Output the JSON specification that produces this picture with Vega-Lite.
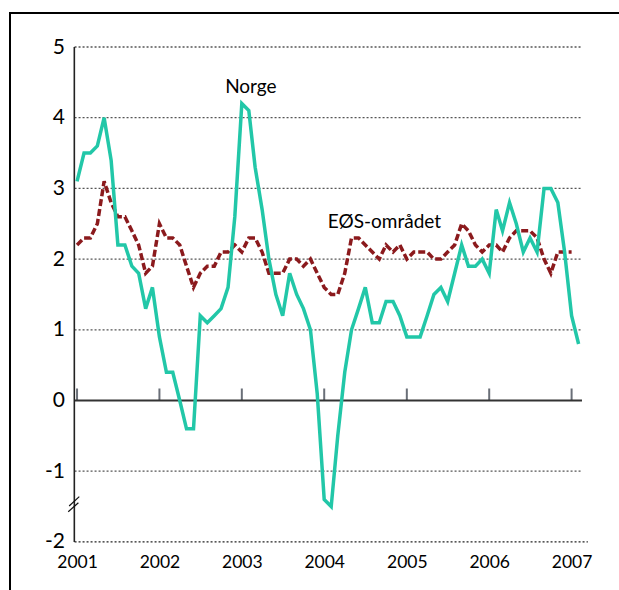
{
  "$schema": "https://vega.github.io/schema/vega-lite/v6.json",
  "width": 609,
  "height": 577,
  "autosize": {"type": "none"},
  "padding": {"left": 10, "top": 13, "right": 0, "bottom": 0},
  "background": "white",
  "config": {
    "view": {"stroke": null},
    "font": "Lato",
    "axis": {"domain": false, "ticks": false, "grid": false, "title": null}
  },
  "data": {"values": [{}]},
  "datasets": {
    "series": [
      {"date": "2001-01", "series": "Norge", "value": 3.1},
      {"date": "2001-02", "series": "Norge", "value": 3.5},
      {"date": "2001-03", "series": "Norge", "value": 3.5},
      {"date": "2001-04", "series": "Norge", "value": 3.6},
      {"date": "2001-05", "series": "Norge", "value": 4.0},
      {"date": "2001-06", "series": "Norge", "value": 3.4},
      {"date": "2001-07", "series": "Norge", "value": 2.2},
      {"date": "2001-08", "series": "Norge", "value": 2.2},
      {"date": "2001-09", "series": "Norge", "value": 1.9},
      {"date": "2001-10", "series": "Norge", "value": 1.8},
      {"date": "2001-11", "series": "Norge", "value": 1.3},
      {"date": "2001-12", "series": "Norge", "value": 1.6},
      {"date": "2002-01", "series": "Norge", "value": 0.9},
      {"date": "2002-02", "series": "Norge", "value": 0.4},
      {"date": "2002-03", "series": "Norge", "value": 0.4},
      {"date": "2002-04", "series": "Norge", "value": 0.0},
      {"date": "2002-05", "series": "Norge", "value": -0.4},
      {"date": "2002-06", "series": "Norge", "value": -0.4},
      {"date": "2002-07", "series": "Norge", "value": 1.2},
      {"date": "2002-08", "series": "Norge", "value": 1.1},
      {"date": "2002-09", "series": "Norge", "value": 1.2},
      {"date": "2002-10", "series": "Norge", "value": 1.3},
      {"date": "2002-11", "series": "Norge", "value": 1.6},
      {"date": "2002-12", "series": "Norge", "value": 2.6},
      {"date": "2003-01", "series": "Norge", "value": 4.2},
      {"date": "2003-02", "series": "Norge", "value": 4.1},
      {"date": "2003-03", "series": "Norge", "value": 3.3},
      {"date": "2003-04", "series": "Norge", "value": 2.7},
      {"date": "2003-05", "series": "Norge", "value": 2.0},
      {"date": "2003-06", "series": "Norge", "value": 1.5},
      {"date": "2003-07", "series": "Norge", "value": 1.2},
      {"date": "2003-08", "series": "Norge", "value": 1.8},
      {"date": "2003-09", "series": "Norge", "value": 1.5},
      {"date": "2003-10", "series": "Norge", "value": 1.3},
      {"date": "2003-11", "series": "Norge", "value": 1.0},
      {"date": "2003-12", "series": "Norge", "value": 0.1},
      {"date": "2004-01", "series": "Norge", "value": -1.4},
      {"date": "2004-02", "series": "Norge", "value": -1.5},
      {"date": "2004-03", "series": "Norge", "value": -0.5},
      {"date": "2004-04", "series": "Norge", "value": 0.4},
      {"date": "2004-05", "series": "Norge", "value": 1.0},
      {"date": "2004-06", "series": "Norge", "value": 1.3},
      {"date": "2004-07", "series": "Norge", "value": 1.6},
      {"date": "2004-08", "series": "Norge", "value": 1.1},
      {"date": "2004-09", "series": "Norge", "value": 1.1},
      {"date": "2004-10", "series": "Norge", "value": 1.4},
      {"date": "2004-11", "series": "Norge", "value": 1.4},
      {"date": "2004-12", "series": "Norge", "value": 1.2},
      {"date": "2005-01", "series": "Norge", "value": 0.9},
      {"date": "2005-02", "series": "Norge", "value": 0.9},
      {"date": "2005-03", "series": "Norge", "value": 0.9},
      {"date": "2005-04", "series": "Norge", "value": 1.2},
      {"date": "2005-05", "series": "Norge", "value": 1.5},
      {"date": "2005-06", "series": "Norge", "value": 1.6},
      {"date": "2005-07", "series": "Norge", "value": 1.4},
      {"date": "2005-08", "series": "Norge", "value": 1.8},
      {"date": "2005-09", "series": "Norge", "value": 2.2},
      {"date": "2005-10", "series": "Norge", "value": 1.9},
      {"date": "2005-11", "series": "Norge", "value": 1.9},
      {"date": "2005-12", "series": "Norge", "value": 2.0},
      {"date": "2006-01", "series": "Norge", "value": 1.8},
      {"date": "2006-02", "series": "Norge", "value": 2.7},
      {"date": "2006-03", "series": "Norge", "value": 2.4},
      {"date": "2006-04", "series": "Norge", "value": 2.8},
      {"date": "2006-05", "series": "Norge", "value": 2.5},
      {"date": "2006-06", "series": "Norge", "value": 2.1},
      {"date": "2006-07", "series": "Norge", "value": 2.3},
      {"date": "2006-08", "series": "Norge", "value": 2.1},
      {"date": "2006-09", "series": "Norge", "value": 3.0},
      {"date": "2006-10", "series": "Norge", "value": 3.0},
      {"date": "2006-11", "series": "Norge", "value": 2.8},
      {"date": "2006-12", "series": "Norge", "value": 2.1},
      {"date": "2007-01", "series": "Norge", "value": 1.2},
      {"date": "2007-02", "series": "Norge", "value": 0.8},
      {"date": "2001-01", "series": "EØS", "value": 2.2},
      {"date": "2001-02", "series": "EØS", "value": 2.3},
      {"date": "2001-03", "series": "EØS", "value": 2.3},
      {"date": "2001-04", "series": "EØS", "value": 2.5},
      {"date": "2001-05", "series": "EØS", "value": 3.1},
      {"date": "2001-06", "series": "EØS", "value": 2.8},
      {"date": "2001-07", "series": "EØS", "value": 2.6},
      {"date": "2001-08", "series": "EØS", "value": 2.6},
      {"date": "2001-09", "series": "EØS", "value": 2.4},
      {"date": "2001-10", "series": "EØS", "value": 2.2},
      {"date": "2001-11", "series": "EØS", "value": 1.8},
      {"date": "2001-12", "series": "EØS", "value": 1.9},
      {"date": "2002-01", "series": "EØS", "value": 2.5},
      {"date": "2002-02", "series": "EØS", "value": 2.3},
      {"date": "2002-03", "series": "EØS", "value": 2.3},
      {"date": "2002-04", "series": "EØS", "value": 2.2},
      {"date": "2002-05", "series": "EØS", "value": 1.9},
      {"date": "2002-06", "series": "EØS", "value": 1.6},
      {"date": "2002-07", "series": "EØS", "value": 1.8},
      {"date": "2002-08", "series": "EØS", "value": 1.9},
      {"date": "2002-09", "series": "EØS", "value": 1.9},
      {"date": "2002-10", "series": "EØS", "value": 2.1},
      {"date": "2002-11", "series": "EØS", "value": 2.1},
      {"date": "2002-12", "series": "EØS", "value": 2.2},
      {"date": "2003-01", "series": "EØS", "value": 2.1},
      {"date": "2003-02", "series": "EØS", "value": 2.3},
      {"date": "2003-03", "series": "EØS", "value": 2.3},
      {"date": "2003-04", "series": "EØS", "value": 2.1},
      {"date": "2003-05", "series": "EØS", "value": 1.8},
      {"date": "2003-06", "series": "EØS", "value": 1.8},
      {"date": "2003-07", "series": "EØS", "value": 1.8},
      {"date": "2003-08", "series": "EØS", "value": 2.0},
      {"date": "2003-09", "series": "EØS", "value": 2.0},
      {"date": "2003-10", "series": "EØS", "value": 1.9},
      {"date": "2003-11", "series": "EØS", "value": 2.0},
      {"date": "2003-12", "series": "EØS", "value": 1.8},
      {"date": "2004-01", "series": "EØS", "value": 1.6},
      {"date": "2004-02", "series": "EØS", "value": 1.5},
      {"date": "2004-03", "series": "EØS", "value": 1.5},
      {"date": "2004-04", "series": "EØS", "value": 1.8},
      {"date": "2004-05", "series": "EØS", "value": 2.3},
      {"date": "2004-06", "series": "EØS", "value": 2.3},
      {"date": "2004-07", "series": "EØS", "value": 2.2},
      {"date": "2004-08", "series": "EØS", "value": 2.1},
      {"date": "2004-09", "series": "EØS", "value": 2.0},
      {"date": "2004-10", "series": "EØS", "value": 2.2},
      {"date": "2004-11", "series": "EØS", "value": 2.1},
      {"date": "2004-12", "series": "EØS", "value": 2.2},
      {"date": "2005-01", "series": "EØS", "value": 2.0},
      {"date": "2005-02", "series": "EØS", "value": 2.1},
      {"date": "2005-03", "series": "EØS", "value": 2.1},
      {"date": "2005-04", "series": "EØS", "value": 2.1},
      {"date": "2005-05", "series": "EØS", "value": 2.0},
      {"date": "2005-06", "series": "EØS", "value": 2.0},
      {"date": "2005-07", "series": "EØS", "value": 2.1},
      {"date": "2005-08", "series": "EØS", "value": 2.2},
      {"date": "2005-09", "series": "EØS", "value": 2.5},
      {"date": "2005-10", "series": "EØS", "value": 2.4},
      {"date": "2005-11", "series": "EØS", "value": 2.2},
      {"date": "2005-12", "series": "EØS", "value": 2.1},
      {"date": "2006-01", "series": "EØS", "value": 2.2},
      {"date": "2006-02", "series": "EØS", "value": 2.2},
      {"date": "2006-03", "series": "EØS", "value": 2.1},
      {"date": "2006-04", "series": "EØS", "value": 2.3},
      {"date": "2006-05", "series": "EØS", "value": 2.4},
      {"date": "2006-06", "series": "EØS", "value": 2.4},
      {"date": "2006-07", "series": "EØS", "value": 2.4},
      {"date": "2006-08", "series": "EØS", "value": 2.3},
      {"date": "2006-09", "series": "EØS", "value": 2.0},
      {"date": "2006-10", "series": "EØS", "value": 1.8},
      {"date": "2006-11", "series": "EØS", "value": 2.1},
      {"date": "2006-12", "series": "EØS", "value": 2.1},
      {"date": "2007-01", "series": "EØS", "value": 2.1}
    ],
    "grid": [{"v": 5}, {"v": 4}, {"v": 3}, {"v": 2}, {"v": 1}, {"v": -1}],
    "years": [
      {"year": "2001-01-01"}, {"year": "2002-01-01"}, {"year": "2003-01-01"},
      {"year": "2004-01-01"}, {"year": "2005-01-01"}, {"year": "2006-01-01"},
      {"year": "2007-01-01"}
    ]
  },
  "layer": [
    {
      "mark": {"type": "rect", "fill": null, "fillOpacity": 0, "stroke": "#000", "strokeWidth": 2},
      "encoding": {
        "x": {"datum": {"year": 2000, "month": 3, "date": 10, "utc": true}, "type": "temporal", "scale": {"type": "utc", "domain": [{"year": 2000, "month": 3, "date": 10, "utc": true}, {"year": 2007, "month": 7, "date": 30, "utc": true}]}},
        "x2": {"datum": {"year": 2008, "month": 6, "date": 1, "utc": true}},
        "y": {"datum": -3.5, "type": "quantitative", "scale": {"domain": [-2.68, 5.481], "nice": false, "zero": false}},
        "y2": {"datum": 5.481}
      }
    },
    {
      "data": {"name": "grid"},
      "mark": {"type": "rule", "color": "#555", "strokeWidth": 1.3, "strokeDash": [2, 2]},
      "encoding": {
        "x": {"datum": {"year": 2000, "month": 12, "date": 21, "utc": true}, "type": "temporal", "scale": {"type": "utc", "domain": [{"year": 2000, "month": 3, "date": 10, "utc": true}, {"year": 2007, "month": 7, "date": 30, "utc": true}]}},
        "x2": {"datum": {"year": 2007, "month": 2, "date": 16, "utc": true}},
        "y": {"field": "v", "type": "quantitative", "scale": {"domain": [-2.68, 5.481], "nice": false, "zero": false}}
      }
    },
    {
      "mark": {"type": "rule", "color": "#222", "strokeWidth": 1.3, "strokeDash": [2, 2]},
      "encoding": {
        "x": {"datum": {"year": 2000, "month": 12, "date": 21, "utc": true}, "type": "temporal", "scale": {"type": "utc", "domain": [{"year": 2000, "month": 3, "date": 10, "utc": true}, {"year": 2007, "month": 7, "date": 30, "utc": true}]}},
        "x2": {"datum": {"year": 2007, "month": 3, "date": 14, "utc": true}},
        "y": {"datum": -2, "type": "quantitative", "scale": {"domain": [-2.68, 5.481], "nice": false, "zero": false}}
      }
    },
    {
      "data": {"name": "years"},
      "mark": {"type": "rule", "color": "#6a6f78", "strokeWidth": 2},
      "encoding": {
        "x": {"field": "year", "type": "temporal", "scale": {"type": "utc", "domain": [{"year": 2000, "month": 3, "date": 10, "utc": true}, {"year": 2007, "month": 7, "date": 30, "utc": true}]}},
        "y": {"datum": 0, "type": "quantitative", "scale": {"domain": [-2.68, 5.481], "nice": false, "zero": false}},
        "y2": {"datum": 0.17}
      }
    },
    {
      "mark": {"type": "rule", "color": "#333", "strokeWidth": 1.8},
      "encoding": {
        "x": {"datum": {"year": 2000, "month": 12, "date": 21, "utc": true}, "type": "temporal", "scale": {"type": "utc", "domain": [{"year": 2000, "month": 3, "date": 10, "utc": true}, {"year": 2007, "month": 7, "date": 30, "utc": true}]}},
        "x2": {"datum": {"year": 2007, "month": 2, "date": 16, "utc": true}},
        "y": {"datum": 0, "type": "quantitative", "scale": {"domain": [-2.68, 5.481], "nice": false, "zero": false}}
      }
    },
    {
      "mark": {"type": "rule", "color": "#222", "strokeWidth": 1.6},
      "encoding": {
        "x": {"datum": {"year": 2000, "month": 12, "date": 20, "utc": true}, "type": "temporal", "scale": {"type": "utc", "domain": [{"year": 2000, "month": 3, "date": 10, "utc": true}, {"year": 2007, "month": 7, "date": 30, "utc": true}]}},
        "y": {"datum": -2, "type": "quantitative", "scale": {"domain": [-2.68, 5.481], "nice": false, "zero": false}},
        "y2": {"datum": 5}
      }
    },
    {
      "mark": {"type": "rule", "color": "#111", "strokeWidth": 1.2},
      "encoding": {
        "x": {"datum": {"year": 2000, "month": 11, "date": 27, "utc": true}, "type": "temporal", "scale": {"type": "utc", "domain": [{"year": 2000, "month": 3, "date": 10, "utc": true}, {"year": 2007, "month": 7, "date": 30, "utc": true}]}},
        "x2": {"datum": {"year": 2001, "month": 1, "date": 11, "utc": true}},
        "y": {"datum": -1.492, "type": "quantitative", "scale": {"domain": [-2.68, 5.481], "nice": false, "zero": false}},
        "y2": {"datum": -1.36}
      }
    },
    {
      "mark": {"type": "rule", "color": "#111", "strokeWidth": 1.2},
      "encoding": {
        "x": {"datum": {"year": 2000, "month": 11, "date": 23, "utc": true}, "type": "temporal", "scale": {"type": "utc", "domain": [{"year": 2000, "month": 3, "date": 10, "utc": true}, {"year": 2007, "month": 7, "date": 30, "utc": true}]}},
        "x2": {"datum": {"year": 2001, "month": 1, "date": 7, "utc": true}},
        "y": {"datum": -1.573, "type": "quantitative", "scale": {"domain": [-2.68, 5.481], "nice": false, "zero": false}},
        "y2": {"datum": -1.446}
      }
    },
    {
      "data": {"name": "series"},
      "transform": [{"filter": "datum.series === 'EØS'"}],
      "mark": {"type": "line", "color": "#8b1a1d", "strokeWidth": 3.5, "strokeDash": [7, 3]},
      "encoding": {
        "x": {"field": "date", "type": "temporal", "scale": {"type": "utc", "domain": [{"year": 2000, "month": 3, "date": 10, "utc": true}, {"year": 2007, "month": 7, "date": 30, "utc": true}]}},
        "y": {"field": "value", "type": "quantitative", "scale": {"domain": [-2.68, 5.481], "nice": false, "zero": false}}
      }
    },
    {
      "data": {"name": "series"},
      "transform": [{"filter": "datum.series === 'Norge'"}],
      "mark": {"type": "line", "color": "#22c7a8", "strokeWidth": 3.5},
      "encoding": {
        "x": {
          "field": "date", "type": "temporal",
          "scale": {"type": "utc", "domain": [{"year": 2000, "month": 3, "date": 10, "utc": true}, {"year": 2007, "month": 7, "date": 30, "utc": true}]},
          "axis": {
            "orient": "bottom", "offset": -48, "title": null, "domain": false, "ticks": false, "grid": false,
            "values": [
              {"year": 2001, "utc": true}, {"year": 2002, "utc": true}, {"year": 2003, "utc": true},
              {"year": 2004, "utc": true}, {"year": 2005, "utc": true}, {"year": 2006, "utc": true},
              {"year": 2007, "utc": true}
            ],
            "format": "%Y", "labelFont": "Lato", "labelFontSize": 17.5, "labelColor": "#000",
            "labelPadding": 11, "labelFlush": false, "labelOverlap": false
          }
        },
        "y": {
          "field": "value", "type": "quantitative",
          "scale": {"domain": [-2.68, 5.481], "nice": false, "zero": false},
          "axis": {
            "orient": "left", "offset": -64.5, "title": null, "domain": false, "ticks": false, "grid": false,
            "values": [-2, -1, 0, 1, 2, 3, 4, 5],
            "labelExpr": "toString(datum.value)",
            "labelFont": "Lato", "labelFontSize": 21, "labelColor": "#000", "labelPadding": 10,
            "labelFlush": false, "labelOverlap": false
          }
        }
      }
    },
    {
      "mark": {"type": "text", "text": "Norge", "font": "Lato", "fontSize": 19, "color": "#000", "align": "center", "baseline": "middle"},
      "encoding": {
        "x": {"datum": {"year": 2003, "month": 2, "date": 10, "utc": true}, "type": "temporal", "scale": {"type": "utc", "domain": [{"year": 2000, "month": 3, "date": 10, "utc": true}, {"year": 2007, "month": 7, "date": 30, "utc": true}]}},
        "y": {"datum": 4.43, "type": "quantitative", "scale": {"domain": [-2.68, 5.481], "nice": false, "zero": false}}
      }
    },
    {
      "mark": {"type": "text", "text": "EØS-området", "font": "Lato", "fontSize": 19, "color": "#000", "align": "center", "baseline": "middle"},
      "encoding": {
        "x": {"datum": {"year": 2004, "month": 9, "date": 24, "utc": true}, "type": "temporal", "scale": {"type": "utc", "domain": [{"year": 2000, "month": 3, "date": 10, "utc": true}, {"year": 2007, "month": 7, "date": 30, "utc": true}]}},
        "y": {"datum": 2.52, "type": "quantitative", "scale": {"domain": [-2.68, 5.481], "nice": false, "zero": false}}
      }
    }
  ]
}
